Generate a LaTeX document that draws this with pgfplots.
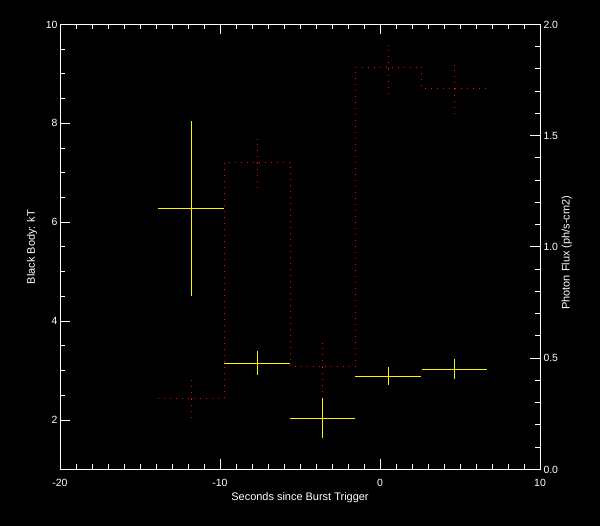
\documentclass[border=0pt]{standalone}
\usepackage{pgfplots}
\pgfplotsset{compat=1.18}
\usepackage{fontspec}
\setmainfont{Liberation Sans}

\pgfplotsset{
  idlstyle/.style={
    at={(60bp,56.5bp)}, anchor=south west,
    scale only axis, width=480bp, height=445bp,
    xmin=-20, xmax=10,
    axis line style={white, line width=1bp},
    every tick/.style={white, line width=1bp},
    tick align=inside,
    major tick length=10bp, minor tick length=5bp,
    tick label style={white, font=\fontsize{10.5}{12}\selectfont},
    label style={white, font=\fontsize{11}{13}\selectfont},
    /pgf/number format/assume math mode=true,
  },
}

\begin{document}
\begin{tikzpicture}
\fill[black] (0,0) rectangle (600bp,526bp);

% left axis: black body temperature
\begin{axis}[idlstyle,
    ymin=1, ymax=10,
    xtick={-20,-10,0,10}, minor x tick num=9,
    ytick={2,4,6,8,10}, minor y tick num=3,
    xtick pos=both, xticklabel pos=lower, ytick pos=left,
    xticklabel style={yshift=-6bp},
    yticklabel style={xshift=1bp},
    xlabel={Seconds since Burst Trigger},
    ylabel={Black Body: kT},
    xlabel style={at={(axis description cs:0.5,-0.064)}, anchor=center},
    ylabel style={at={(axis description cs:-0.058,0.5)}, anchor=center},
]
\addplot[draw=none, mark=none,
  error bars/.cd, x dir=both, x explicit, y dir=both, y explicit,
  error mark=none, error bar style={draw=yellow, line width=1bp, solid}]
  coordinates {
    (-11.79, 6.27) +- (2.07, 1.77)
    (-7.67,  3.15) +- (2.06, 0.24)
    (-3.58,  2.04) +- (2.03, 0.41)
    (0.52,   2.89) +- (2.07, 0.18)
    (4.65,   3.03) +- (2.05, 0.20)
  };
\end{axis}

% right axis: photon flux
\begin{axis}[idlstyle,
    ymin=0, ymax=2,
    axis x line=none, axis y line*=right,
    ytick={0,0.5,1.0,1.5,2.0}, minor y tick num=4,
    yticklabel style={/pgf/number format/.cd, fixed, fixed zerofill, precision=1},
    ylabel={Photon Flux (ph/s-cm2)},
    ylabel style={at={(axis description cs:1.056,0.487)}, anchor=center},
]
\addplot[const plot, red, line width=1bp, line cap=butt, dash pattern=on 1bp off 5bp]
  coordinates {
    (-13.85, 0.320)
    (-9.73,  1.380)
    (-5.60,  0.464)
    (-1.55,  1.808)
    (2.60,   1.713)
    (6.70,   1.713)
  };
\addplot[draw=none, mark=none,
  error bars/.cd, y dir=both, y explicit,
  error mark=none, error bar style={draw=red, line width=1bp, line cap=butt, dash pattern=on 1bp off 5bp}]
  coordinates {
    (-11.79, 0.315) +- (0, 0.095)
    (-7.67,  1.376) +- (0, 0.108)
    (-3.58,  0.460) +- (0, 0.110)
    (0.52,   1.800) +- (0, 0.109)
    (4.65,   1.710) +- (0, 0.109)
  };
\end{axis}
\end{tikzpicture}
\end{document}
